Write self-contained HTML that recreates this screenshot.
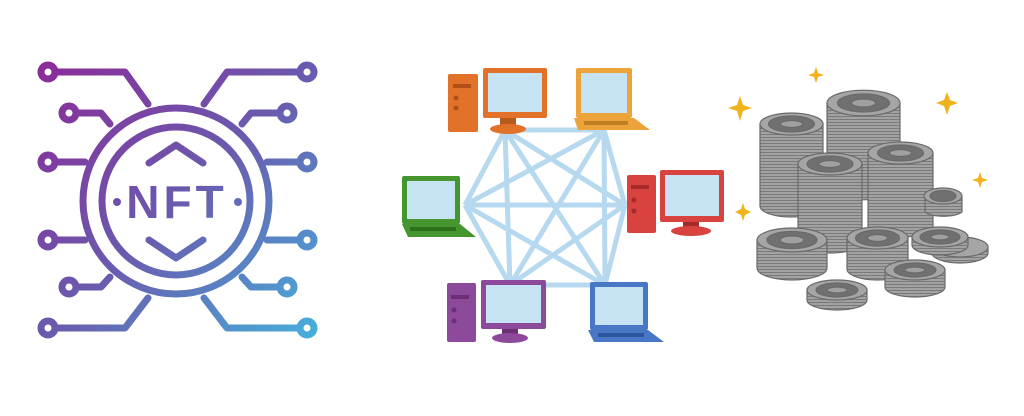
<!DOCTYPE html>
<html><head><meta charset="utf-8"><style>html,body{margin:0;padding:0;background:#fff}svg{display:block}</style></head>
<body>
<svg width="1024" height="416" viewBox="0 0 1024 416" xmlns="http://www.w3.org/2000/svg">
<defs>
<linearGradient id="g" x1="40" y1="60" x2="320" y2="340" gradientUnits="userSpaceOnUse">
<stop offset="0" stop-color="#8c2a98"/><stop offset="0.5" stop-color="#6a5aae"/><stop offset="1" stop-color="#45b2dc"/></linearGradient>
<pattern id="st" width="4" height="3" patternUnits="userSpaceOnUse"><rect width="4" height="3" fill="#a2a2a2"/><rect y="2" width="4" height="1" fill="#7a7a7a"/></pattern>
</defs>
<!-- NFT icon -->
<g fill="none" stroke="url(#g)" stroke-width="7" stroke-linecap="round" stroke-linejoin="round">
<circle cx="176" cy="201" r="93"/>
<circle cx="176" cy="201" r="74"/>
<path d="M55 72H125L148 104M76 113H101L110 124M55 162H85M55 240H85M76 287H101L110 277M55 328H125L148 298"/>
<path d="M300 72H227L204 104M280 113H251L242 124M300 162H267M300 240H267M280 287H251L242 277M300 328H227L204 298"/>
<circle cx="48" cy="72" r="7"/><circle cx="69" cy="113" r="7"/><circle cx="48" cy="162" r="7"/><circle cx="48" cy="240" r="7"/><circle cx="69" cy="287" r="7"/><circle cx="48" cy="328" r="7"/>
<circle cx="307" cy="72" r="7"/><circle cx="287" cy="113" r="7"/><circle cx="307" cy="162" r="7"/><circle cx="307" cy="240" r="7"/><circle cx="287" cy="287" r="7"/><circle cx="307" cy="328" r="7"/>
<path d="M149 163L176 145L203 163M149 240L176 258L203 240"/>
</g>
<circle cx="117" cy="202" r="4" fill="url(#g)"/><circle cx="238" cy="202" r="4" fill="url(#g)"/>
<text x="177" y="218" text-anchor="middle" font-family="Liberation Sans, sans-serif" font-weight="bold" font-size="46" letter-spacing="4" fill="url(#g)">NFT</text>
<!-- network lines -->
<g stroke="#b7d9f0" stroke-width="5">
<path d="M505 130L604 130M505 130L465 205M505 130L625 205M505 130L510 285M505 130L605 285M604 130L465 205M604 130L625 205M604 130L510 285M604 130L605 285M465 205L625 205M465 205L510 285M465 205L605 285M625 205L510 285M625 205L605 285M510 285L605 285"/>
</g>
<!-- orange desktop -->
<rect x="448" y="74" width="30" height="58" rx="2" fill="#e2712a"/>
<rect x="453" y="84" width="18" height="4" fill="#b24f16"/><circle cx="456" cy="98" r="2.5" fill="#b24f16"/><circle cx="456" cy="108" r="2.5" fill="#b24f16"/>
<rect x="483" y="68" width="64" height="50" rx="2" fill="#e2712a"/><rect x="488" y="73" width="54" height="39" fill="#c6e3f4"/>
<rect x="500" y="118" width="16" height="8" fill="#b85a1c"/><ellipse cx="508" cy="129" rx="18" ry="5" fill="#e2712a"/>
<!-- yellow laptop -->
<rect x="576" y="68" width="56" height="50" rx="2" fill="#eca43a"/><rect x="581" y="73" width="46" height="40" fill="#c6e3f4"/>
<path d="M574 118H634L650 130H578Z" fill="#eca43a"/><rect x="584" y="121" width="44" height="4" fill="#c07f22"/>
<!-- green laptop -->
<rect x="402" y="176" width="58" height="48" rx="2" fill="#45962e"/><rect x="407" y="181" width="48" height="38" fill="#c6e3f4"/>
<path d="M402 224H460L476 237H408Z" fill="#45962e"/><rect x="410" y="227" width="46" height="4" fill="#2f6e1d"/>
<!-- red desktop -->
<rect x="627" y="175" width="29" height="58" rx="2" fill="#d8423f"/>
<rect x="631" y="185" width="18" height="4" fill="#a52a28"/><circle cx="634" cy="200" r="2.5" fill="#a52a28"/><circle cx="634" cy="211" r="2.5" fill="#a52a28"/>
<rect x="660" y="170" width="64" height="52" rx="2" fill="#d8423f"/><rect x="665" y="175" width="54" height="41" fill="#c6e3f4"/>
<rect x="683" y="222" width="16" height="7" fill="#a52a28"/><ellipse cx="691" cy="231" rx="20" ry="5" fill="#d8423f"/>
<!-- purple desktop -->
<rect x="447" y="283" width="29" height="59" rx="2" fill="#8e4a9a"/>
<rect x="451" y="295" width="18" height="4" fill="#6a2f75"/><circle cx="454" cy="310" r="2.5" fill="#6a2f75"/><circle cx="454" cy="321" r="2.5" fill="#6a2f75"/>
<rect x="481" y="280" width="65" height="49" rx="2" fill="#8e4a9a"/><rect x="486" y="285" width="55" height="38" fill="#c6e3f4"/>
<rect x="502" y="329" width="16" height="7" fill="#6a2f75"/><ellipse cx="510" cy="338" rx="18" ry="5" fill="#8e4a9a"/>
<!-- blue laptop -->
<rect x="590" y="282" width="58" height="48" rx="2" fill="#4877c6"/><rect x="595" y="287" width="48" height="38" fill="#c6e3f4"/>
<path d="M588 330H648L664 342H594Z" fill="#4877c6"/><rect x="598" y="333" width="46" height="4" fill="#2f56a0"/>
<!-- stars -->
<g fill="#f0b21d">
<path d="M740 96L743 105L752 108L743 111L740 121L737 111L728 108L737 105Z"/>
<path d="M816 67L818 73L824 75L818 77L816 83L814 77L808 75L814 73Z"/>
<path d="M947 92L950 100L958 103L950 106L947 115L944 106L936 103L944 100Z"/>
<path d="M980 172L982 178L988 180L982 182L980 188L978 182L972 180L978 178Z"/>
<path d="M743 203L745 209L751 212L745 215L743 221L741 215L735 212L741 209Z"/>
</g>
<!-- coins -->
<g stroke="#6a6a6a" stroke-width="1.2">
<g><path d="M827 103L827 187A36.5 12.8 0 0 0 900 187L900 103Z" fill="url(#st)"/><ellipse cx="863.5" cy="103" rx="36.5" ry="12.8" fill="#a5a5a5"/><ellipse cx="863.5" cy="103" rx="26" ry="9" fill="#707070"/><ellipse cx="863.5" cy="103" rx="12" ry="4" fill="#a0a0a0"/></g>
<g><path d="M760 124L760 206A31.5 11 0 0 0 823 206L823 124Z" fill="url(#st)"/><ellipse cx="791.5" cy="124" rx="31.5" ry="11" fill="#a5a5a5"/><ellipse cx="791.5" cy="124" rx="23" ry="8" fill="#707070"/><ellipse cx="791.5" cy="124" rx="11" ry="3.5" fill="#a0a0a0"/></g>
<g><path d="M868 153L868 226A32.5 11 0 0 0 933 226L933 153Z" fill="url(#st)"/><ellipse cx="900.5" cy="153" rx="32.5" ry="11" fill="#a5a5a5"/><ellipse cx="900.5" cy="153" rx="23" ry="8" fill="#707070"/><ellipse cx="900.5" cy="153" rx="11" ry="3.5" fill="#a0a0a0"/></g>
<g><path d="M925 196L925 212A21 8 0 0 0 962 212L962 196Z" fill="url(#st)"/><ellipse cx="943" cy="196" rx="19" ry="8" fill="#a5a5a5"/><ellipse cx="943" cy="196" rx="13" ry="5.5" fill="#707070"/></g>
<g><path d="M798 164L798 242A32 11 0 0 0 862 242L862 164Z" fill="url(#st)"/><ellipse cx="830" cy="164" rx="32" ry="11" fill="#a5a5a5"/><ellipse cx="830" cy="164" rx="23" ry="8" fill="#707070"/><ellipse cx="830" cy="164" rx="11" ry="3.5" fill="#a0a0a0"/></g>
<g><path d="M757 240L757 268A35 12 0 0 0 827 268L827 240Z" fill="url(#st)"/><ellipse cx="792" cy="240" rx="35" ry="12" fill="#a5a5a5"/><ellipse cx="792" cy="240" rx="25" ry="8.5" fill="#707070"/><ellipse cx="792" cy="240" rx="12" ry="4" fill="#a0a0a0"/></g>
<g><path d="M847 238L847 269A30.5 11 0 0 0 908 269L908 238Z" fill="url(#st)"/><ellipse cx="877.5" cy="238" rx="30.5" ry="11" fill="#a5a5a5"/><ellipse cx="877.5" cy="238" rx="22" ry="8" fill="#707070"/><ellipse cx="877.5" cy="238" rx="10" ry="3.5" fill="#a0a0a0"/></g>
<g><path d="M932 247L932 253A28 10 0 0 0 988 253L988 247Z" fill="url(#st)"/><ellipse cx="960" cy="247" rx="28" ry="10" fill="#a5a5a5"/></g>
<g><path d="M912 237L912 245A28 10 0 0 0 968 245L968 237Z" fill="url(#st)"/><ellipse cx="940" cy="237" rx="28" ry="10" fill="#a5a5a5"/><ellipse cx="940" cy="237" rx="20" ry="7" fill="#707070"/><ellipse cx="940" cy="237" rx="9" ry="3" fill="#a0a0a0"/></g>
<g><path d="M885 270L885 287A30 10 0 0 0 945 287L945 270Z" fill="url(#st)"/><ellipse cx="915" cy="270" rx="30" ry="10" fill="#a5a5a5"/><ellipse cx="915" cy="270" rx="21" ry="7" fill="#707070"/><ellipse cx="915" cy="270" rx="10" ry="3" fill="#a0a0a0"/></g>
<g><path d="M807 290L807 300A30 10 0 0 0 867 300L867 290Z" fill="url(#st)"/><ellipse cx="837" cy="290" rx="30" ry="10" fill="#a5a5a5"/><ellipse cx="837" cy="290" rx="21" ry="7" fill="#707070"/><ellipse cx="837" cy="290" rx="10" ry="3" fill="#a0a0a0"/></g>
</g>
</svg>
</body></html>
